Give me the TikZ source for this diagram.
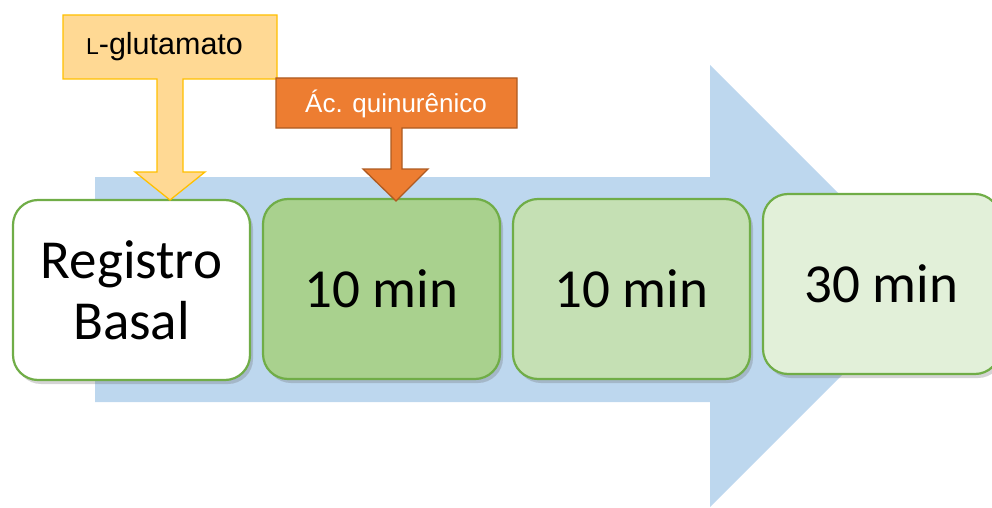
\documentclass[tikz,border=0pt]{standalone}
\usepackage{fontspec}
\setmainfont{Carlito}
\newfontfamily\calloutfont{Liberation Sans}
\usetikzlibrary{shadows}
\definecolor{flowblue}{HTML}{BDD7EE}
\definecolor{boxgreen}{HTML}{70AD47}
\definecolor{fillA}{HTML}{FFFFFF}
\definecolor{fillB}{HTML}{A9D18E}
\definecolor{fillC}{HTML}{C5E0B4}
\definecolor{fillD}{HTML}{E2F0D9}
\definecolor{gluFill}{HTML}{FFD994}
\definecolor{gluLine}{HTML}{FFC000}
\definecolor{kynaFill}{HTML}{ED7D31}
\definecolor{kynaLine}{HTML}{AE5A21}
\tikzset{
  stagebox/.style={draw=boxgreen, line width=2.2pt, rounded corners=25pt,
    minimum width=237pt, minimum height=180pt, align=center,
    font=\fontsize{55}{61}\selectfont,
    drop shadow={shadow xshift=3pt, shadow yshift=-4pt, opacity=0.28, fill=black!60}},
  calloutlabel/.style={inner sep=0pt, anchor=base, font=\calloutfont}
}
\begin{document}
\begin{tikzpicture}[x=1pt, y=-1pt]
  \useasboundingbox (0,0) rectangle (992,508);
  % broad timeline arrow in the background
  \fill[flowblue] (95,177) -- (710,177) -- (710,65) -- (931,286) -- (710,507)
    -- (710,402) -- (95,402) -- cycle;
  % stage boxes
  \node[stagebox, fill=fillA] (basal) at (131.5,290) {Registro\\Basal};
  \node[stagebox, fill=fillB] (stageA) at (381.5,289) {10 min};
  \node[stagebox, fill=fillC] (stageB) at (631.5,289) {10 min};
  \node[stagebox, fill=fillD] (stageC) at (881.5,284) {30 min};
  % down-arrow callout: L-glutamate
  \draw[fill=gluFill, draw=gluLine, line width=1.3pt, line join=miter]
    (63,15) -- (277,15) -- (277,79) -- (183,79) -- (183,172) -- (205,172)
    -- (170,200) -- (135,172) -- (157,172) -- (157,79) -- (63,79) -- cycle;
  \node[calloutlabel] (glu) at (164.5,55)
    {{\fontsize{23}{27}\selectfont L}{\fontsize{30.5}{35}\selectfont -glutamato}};
  % down-arrow callout: kynurenic acid
  \draw[fill=kynaFill, draw=kynaLine, line width=1.3pt, line join=miter]
    (276,78) -- (517,78) -- (517,128) -- (402,128) -- (402,169) -- (428,169)
    -- (396,201) -- (363,169) -- (391,169) -- (391,128) -- (276,128) -- cycle;
  \node[calloutlabel, text=white] (kyna) at (396,113)
    {\fontsize{26}{30}\selectfont Ác. quinurênico};
\end{tikzpicture}
\end{document}
